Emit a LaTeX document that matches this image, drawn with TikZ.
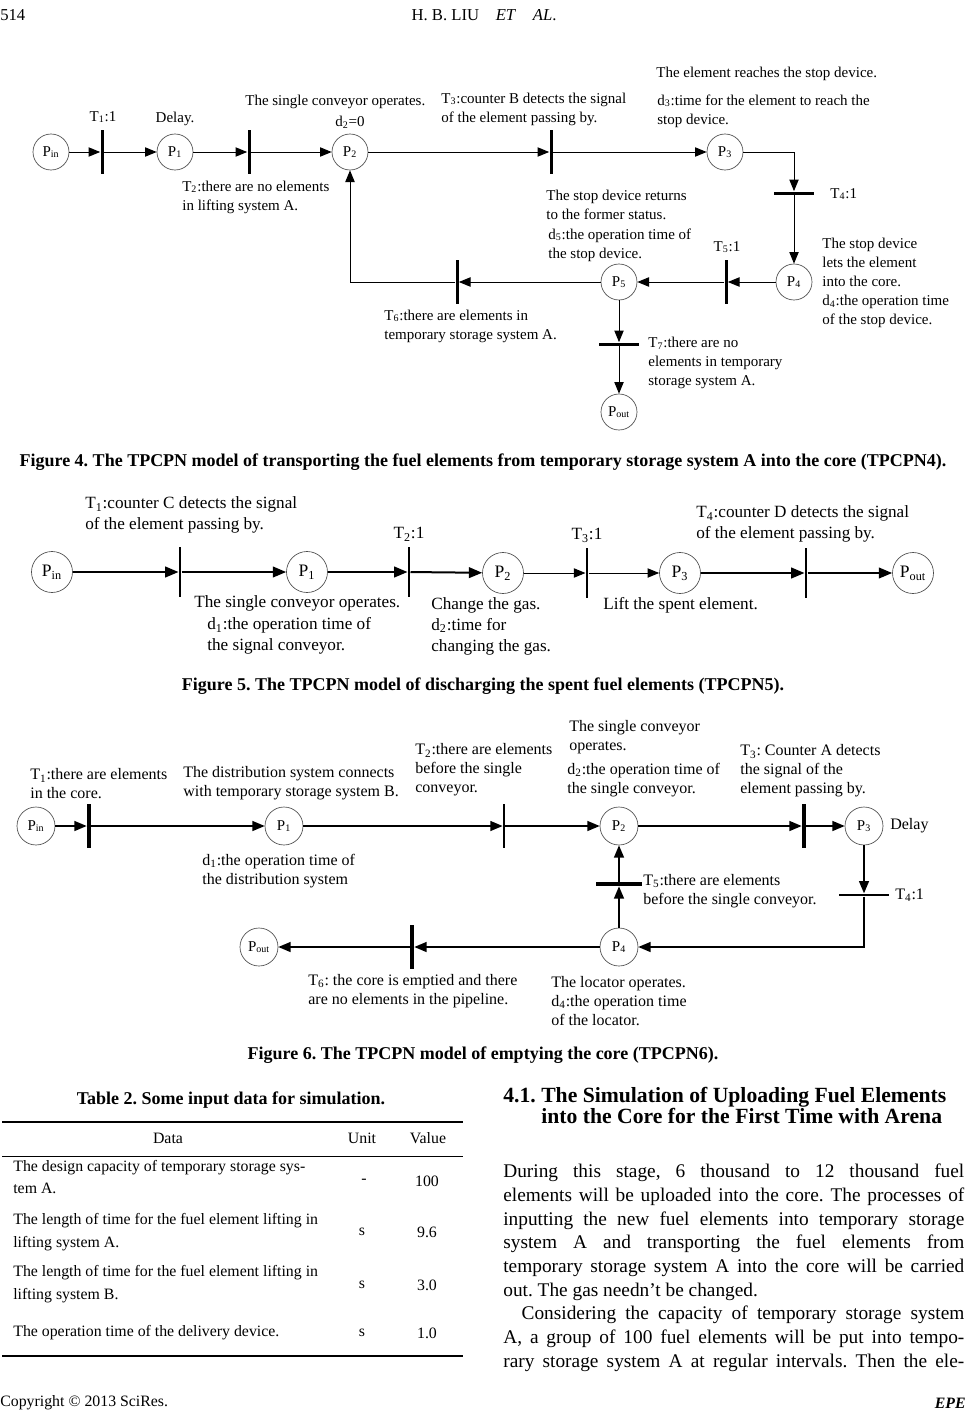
\documentclass[tikz,border=0pt]{standalone}
\usepackage{fontspec}
\setmainfont{Liberation Serif}
\usepackage{tikz}
\usetikzlibrary{arrows.meta, positioning}
\frenchspacing
\newcommand{\ix}[1]{\textsubscript{#1}}
\newcommand{\figfont}{\fontsize{9}{11.4}\selectfont}
\newcommand{\bigfigfont}{\fontsize{10.3}{12.6}\selectfont}
\newcommand{\midfigfont}{\fontsize{9.6}{11.4}\selectfont}
\tikzset{
    place/.style={circle, draw=black!70, line width=0.4pt, inner sep=0pt, minimum size=21.6pt, fill=white, font=\fontsize{9}{10}\selectfont},
    bigplace/.style={place, minimum size=24.6pt, font=\fontsize{10.5}{12}\selectfont},
    vbar/.style={rectangle, fill=black, inner sep=0pt, minimum width=1.8pt, minimum height=26.4pt},
    hbar/.style={rectangle, fill=black, inner sep=0pt, minimum width=24pt, minimum height=1.8pt},
    bigvbar/.style={vbar, minimum width=1.4pt, minimum height=30pt},
    thickvbar/.style={vbar, minimum width=2.4pt},
    thickhbar/.style={hbar, minimum width=28pt, minimum height=2.4pt},
    arrow/.style={-{Triangle[length=7pt,width=5.6pt]}, line width=0.6pt},
    bigarrow/.style={-{Triangle[length=8pt,width=6.4pt]}, line width=1.2pt},
    midarrow/.style={-{Triangle[length=7.4pt,width=6pt]}, line width=0.9pt},
    note/.style={anchor=west, align=left, inner sep=0pt, font=\figfont},
    bignote/.style={note, font=\bigfigfont},
    midnote/.style={note, font=\midfigfont},
    caption/.style={inner sep=0pt, font=\fontsize{10.8}{12}\selectfont\bfseries},
    head/.style={inner sep=0pt, font=\fontsize{10}{12}\selectfont},
    cell/.style={inner sep=0pt, align=left, anchor=west, font=\fontsize{9.5}{13.6}\selectfont},
    num/.style={inner sep=0pt, font=\fontsize{9.5}{11}\selectfont},
    rule/.style={line width=0.7pt}
}
\begin{document}
\begin{tikzpicture}[x=0.6pt, y=-0.6pt]
    \useasboundingbox (0,0) rectangle (967,1414);

    % Running head
    \node[head, anchor=west] (page) at (0,15) {514};
    \node[head] (authors) at (484,15) {H. B. LIU\quad\textit{ET}\quad\textit{AL}.};

    % ---------- Figure 4 ----------
    % Places
    \node[place] (Pin4) at (51,152) {P\ix{in}};
    \node[place] (P14) at (175,152) {P\ix{1}};
    \node[place] (P24) at (350,152) {P\ix{2}};
    \node[place] (P34) at (725,152) {P\ix{3}};
    \node[place] (P44) at (794,282) {P\ix{4}};
    \node[place] (P54) at (619,282) {P\ix{5}};
    \node[place] (Pout4) at (619,412) {P\ix{out}};

    % Transitions
    \node[vbar] (T14) at (102,152) {};
    \node[vbar] (T24) at (249,152) {};
    \node[vbar] (T34) at (551,152) {};
    \node[hbar] (T44) at (794,193) {};
    \node[vbar] (T54) at (726,282) {};
    \node[vbar] (T64) at (457,282) {};
    \node[hbar] (T74) at (619,344) {};

    % Arcs
    \draw[arrow] (Pin4) -- (T14);
    \draw[arrow] (T14) -- (P14);
    \draw[arrow] (P14) -- (T24);
    \draw[arrow] (T24) -- (P24);
    \draw[arrow] (P24) -- (T34);
    \draw[arrow] (T34) -- (P34);
    \draw[arrow] (P34) -| (T44);
    \draw[arrow] (T44) -- (P44);
    \draw[arrow] (P44) -- (T54);
    \draw[arrow] (T54) -- (P54);
    \draw[arrow] (P54) -- (T64);
    \draw[arrow] (T64) -| (P24);
    \draw[arrow] (P54) -- (T74);
    \draw[arrow] (T74) -- (Pout4);

    % Labels
    \node[note, anchor=center] (T14lbl) at (103,117) {T\ix{1}:1};
    \node[note, anchor=center] (P14lbl) at (175,119) {Delay.};
    \node[note] (P24op) at (245,102) {The single conveyor operates.};
    \node[note, anchor=center] (P24d) at (350,122) {d\ix{2}=0};
    \node[note] (T24lbl) at (182,197) {T\ix{2}:there are no elements\\in lifting system A.};
    \node[note] (T34lbl) at (441,109) {T\ix{3}:counter B detects the signal\\of the element passing by.};
    \node[note] (P34op) at (656,74) {The element reaches the stop device.};
    \node[note] (P34d) at (657,111) {d\ix{3}:time for the element to reach the\\stop device.};
    \node[note] (T44lbl) at (830,194) {T\ix{4}:1};
    \node[note] (P54op) at (546,205) {The stop device returns\\to the former status.};
    \node[note] (P54d) at (548,245) {d\ix{5}:the operation time of\\the stop device.};
    \node[note, anchor=center] (T54lbl) at (727,247) {T\ix{5}:1};
    \node[note] (P44op) at (822,283) {The stop device\\lets the element\\into the core.\\d\ix{4}:the operation time\\of the stop device.};
    \node[note] (T64lbl) at (384,326) {T\ix{6}:there are elements in\\temporary storage system A.};
    \node[note] (T74lbl) at (648,363) {T\ix{7}:there are no\\elements in temporary\\storage system A.};

    \node[caption] (cap4) at (483,462) {Figure 4. The TPCPN model of transporting the fuel elements from temporary storage system A into the core (TPCPN4).};

    % ---------- Figure 5 ----------
    % Places
    \node[bigplace] (Pin5) at (52,572) {P\ix{in}};
    \node[bigplace] (P15) at (307,572) {P\ix{1}};
    \node[bigplace] (P25) at (503,573) {P\ix{2}};
    \node[bigplace] (P35) at (680,573) {P\ix{3}};
    \node[bigplace] (Pout5) at (913,573) {P\ix{out}};

    % Transitions
    \node[bigvbar] (T15) at (180,572) {};
    \node[bigvbar] (T25) at (409,572) {};
    \node[bigvbar] (T35) at (587,573) {};
    \node[bigvbar] (T45) at (806,573) {};

    % Arcs
    \draw[bigarrow] (Pin5) -- (T15);
    \draw[bigarrow] (T15) -- (P15);
    \draw[bigarrow] (P15) -- (T25);
    \draw[bigarrow] (T25) -- (P25);
    \draw[arrow] (P25) -- (T35);
    \draw[arrow] (T35) -- (P35);
    \draw[bigarrow] (P35) -- (T45);
    \draw[bigarrow] (T45) -- (Pout5);

    % Labels
    \node[bignote] (T15lbl) at (85,515) {T\ix{1}:counter C detects the signal\\of the element passing by.};
    \node[bignote, anchor=south, above=3pt of T25] (T25lbl) {T\ix{2}:1};
    \node[bignote, anchor=south, above=3pt of T35] (T35lbl) {T\ix{3}:1};
    \node[bignote] (T45lbl) at (696,524) {T\ix{4}:counter D detects the signal\\of the element passing by.};
    \node[bignote] (P15op) at (194,603) {The single conveyor operates.};
    \node[bignote] (P15d) at (207,636) {d\ix{1}:the operation time of\\the signal conveyor.};
    \node[bignote] (P25op) at (431,626) {Change the gas.\\d\ix{2}:time for\\changing the gas.};
    \node[bignote] (P35op) at (603,605) {Lift the spent element.};

    \node[caption] (cap5) at (483,686) {Figure 5. The TPCPN model of discharging the spent fuel elements (TPCPN5).};

    % ---------- Figure 6 ----------
    % Places
    \node[place, minimum size=22.8pt] (Pin6) at (36,826) {P\ix{in}};
    \node[place, minimum size=22.8pt] (P16) at (284,826) {P\ix{1}};
    \node[place, minimum size=22.8pt] (P26) at (619,826) {P\ix{2}};
    \node[place, minimum size=22.8pt] (P36) at (864,826) {P\ix{3}};
    \node[place, minimum size=22.8pt] (P46) at (619,947) {P\ix{4}};
    \node[place, minimum size=22.8pt] (Pout6) at (259,947) {P\ix{out}};

    % Transitions
    \node[thickvbar] (T16) at (89,826) {};
    \node[vbar, minimum width=1.3pt] (T26) at (504,826) {};
    \node[thickvbar] (T36) at (804,826) {};
    \node[hbar, minimum width=30pt, minimum height=1.6pt] (T46) at (864,895) {};
    \node[thickhbar] (T56) at (619,884) {};
    \node[thickvbar] (T66) at (412,947) {};

    % Arcs
    \draw[midarrow] (Pin6) -- (T16);
    \draw[midarrow] (T16) -- (P16);
    \draw[midarrow] (P16) -- (T26);
    \draw[midarrow] (T26) -- (P26);
    \draw[midarrow] (P26) -- (T36);
    \draw[midarrow] (T36) -- (P36);
    \draw[midarrow] (P36) -- (T46);
    \draw[midarrow] (T46) |- (P46);
    \draw[midarrow] (P46) -- (T56);
    \draw[midarrow] (T56) -- (P26);
    \draw[midarrow] (P46) -- (T66);
    \draw[midarrow] (T66) -- (Pout6);

    % Labels
    \node[midnote] (T16lbl) at (30,784) {T\ix{1}:there are elements\\in the core.};
    \node[midnote] (P16op) at (183,783) {The distribution system connects\\with temporary storage system B.};
    \node[midnote] (P16d) at (202,871) {d\ix{1}:the operation time of\\the distribution system};
    \node[midnote] (T26lbl) at (415,770) {T\ix{2}:there are elements\\before the single\\conveyor.};
    \node[midnote] (P26op) at (569,737) {The single conveyor\\operates.};
    \node[midnote] (P26d) at (567,780) {d\ix{2}:the operation time of\\the single conveyor.};
    \node[midnote] (T36lbl) at (740,771) {T\ix{3}: Counter A detects\\the signal of the\\element passing by.};
    \node[midnote] (P36lbl) at (890,826) {Delay};
    \node[midnote] (T46lbl) at (895,895) {T\ix{4}:1};
    \node[midnote] (T56lbl) at (643,891) {T\ix{5}:there are elements\\before the single conveyor.};
    \node[midnote] (T66lbl) at (308,991) {T\ix{6}: the core is emptied and there\\are no elements in the pipeline.};
    \node[midnote] (P46op) at (551,1001) {The locator operates.\\d\ix{4}:the operation time\\of the locator.};

    \node[caption] (cap6) at (483,1055) {Figure 6. The TPCPN model of emptying the core (TPCPN6).};

    % ---------- Table 2 ----------
    \node[caption] (tabcap) at (231,1100) {Table 2. Some input data for simulation.};
    \coordinate (tabL) at (2,1122);
    \coordinate (tabR) at (463,1122);
    \draw[rule] (tabL) -- (tabR);
    \draw[line width=0.5pt] ([yshift=-34*0.6pt]tabL) -- ([yshift=-34*0.6pt]tabR);
    \draw[rule] ([yshift=-234*0.6pt]tabL) -- ([yshift=-234*0.6pt]tabR);
    \node[num] (hData) at (168,1138) {Data};
    \node[num] (hUnit) at (362,1138) {Unit};
    \node[num] (hValue) at (428,1138) {Value};
    \node[cell] (r1) at (13,1177) {The design capacity of temporary storage sys-\\tem A.};
    \node[num] (u1) at (364,1181) {-};
    \node[num] (v1) at (427,1181) {100};
    \node[cell] (r2) at (13,1232) {The length of time for the fuel element lifting in\\lifting system A.};
    \node[num] (u2) at (362,1232) {s};
    \node[num] (v2) at (427,1232) {9.6};
    \node[cell] (r3) at (13,1284) {The length of time for the fuel element lifting in\\lifting system B.};
    \node[num] (u3) at (362,1285) {s};
    \node[num] (v3) at (427,1285) {3.0};
    \node[cell] (r4) at (13,1333) {The operation time of the delivery device.};
    \node[num] (u4) at (362,1333) {s};
    \node[num] (v4) at (427,1333) {1.0};

    % ---------- Section text ----------
    \node[anchor=north west, inner sep=0pt, align=left, font=\fontsize{13}{12.8}\selectfont\bfseries] (sec) at (503,1087)
        {4.1. The Simulation of Uploading Fuel Elements\\\hspace*{22.8pt}into the Core for the First Time with Arena};
    \node[anchor=north west, inner sep=0pt, text width=276.6pt, align=justify, font=\fontsize{11.6}{14.2}\selectfont] (body) at (503,1164)
        {During this stage, 6 thousand to 12 thousand fuel\linebreak
        elements will be uploaded into the core. The processes of\linebreak
        inputting the new fuel elements into temporary storage\linebreak
        system A and transporting the fuel elements from\linebreak
        temporary storage system A into the core will be carried\linebreak
        out. The gas needn't be changed.\par
        \hspace*{11pt}Considering the capacity of temporary storage system\linebreak
        A, a group of 100 fuel elements will be put into tempo-\linebreak
        rary storage system A at regular intervals. Then the ele-{\parfillskip=0pt\par}};

    % Running foot
    \node[head, anchor=west, font=\fontsize{9.5}{11}\selectfont] (copy) at (0,1403) {Copyright \textcopyright{} 2013 SciRes.};
    \node[head, anchor=east, font=\fontsize{9.5}{11}\selectfont\bfseries\itshape] (journal) at (966,1403) {EPE};
\end{tikzpicture}
\end{document}
